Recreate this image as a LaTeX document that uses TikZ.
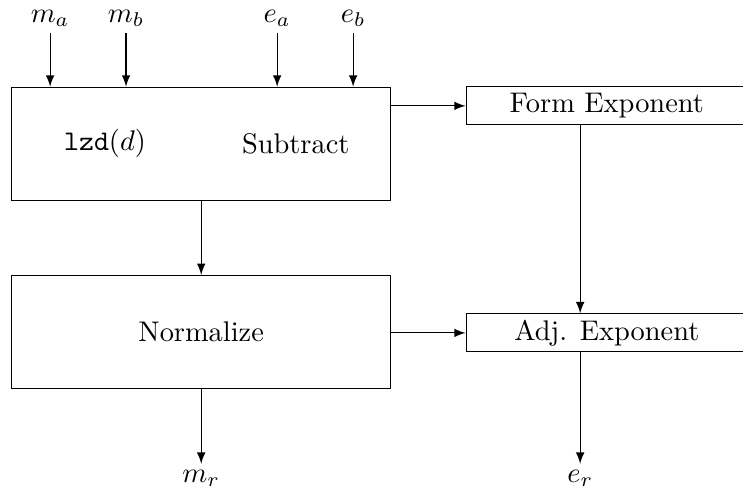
\documentclass[tikz,border=0pt]{standalone}
\usepackage{tikz}
\usetikzlibrary{positioning,arrows.meta,calc}
\begin{document}
\begin{tikzpicture}[
  >=latex,
  block/.style={draw,minimum width=4.69cm,minimum height=1.40cm},
  slim/.style={draw,minimum width=3.48cm,minimum height=0.47cm,inner sep=0pt},
  io/.style={inner sep=2pt},
  flow/.style={->}
]
\useasboundingbox (0,0) rectangle (9.195,6.09);

% mantissa path
\node[block] (sub) at (2.49,4.31) {};
\node (lzd) at (1.30,4.31) {\texttt{lzd}$(d)$};
\node (subtxt) at (3.66,4.31) {Subtract};

\node[block] (norm) at (2.49,1.98) {Normalize};

% exponent path
\node[slim] (form) at (7.51,4.78) {Form Exponent};
\node[slim] (adj) at (7.51,1.97) {Adj. Exponent};

% inputs
\foreach \nm/\lbl/\x in {ma/m_a/0.62, mb/m_b/1.56, ea/e_a/3.43, eb/e_b/4.37}{
  \node[io,anchor=south] (\nm) at (\x,5.68) {$\lbl$};
  \draw[flow] (\nm.south) -- (\nm.south |- sub.north);
}

% outputs
\node[io,anchor=north] (mr) at (2.49,0.35) {$m_r$};
\node[io,anchor=north] (er) at (7.18,0.35) {$e_r$};

% connectors
\draw[flow] (sub.south) -- (norm.north);
\draw[flow] (norm.south) -- (mr.north);
\draw[flow] (sub.east |- form.west) -- (form.west);
\draw[flow] (norm.east |- adj.west) -- (adj.west);
\draw[flow] (form.south -| er) -- (adj.north -| er);
\draw[flow] (adj.south -| er) -- (er.north);
\end{tikzpicture}
\end{document}
